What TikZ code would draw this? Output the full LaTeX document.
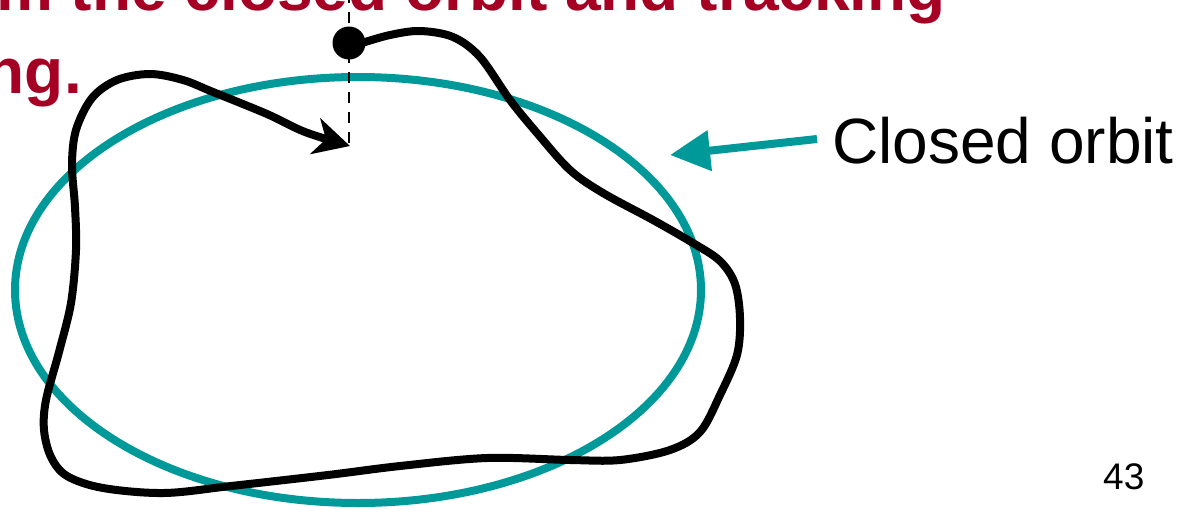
\documentclass[tikz,border=0pt]{standalone}
\usepackage{fontspec}
\setmainfont{Liberation Sans}
\usetikzlibrary{arrows.meta}
\definecolor{titlered}{RGB}{165,0,36}
\definecolor{orbitteal}{RGB}{0,153,153}
\tikzset{
  titletext/.style={font=\fontsize{64}{77}\selectfont\bfseries, text=titlered, inner sep=0pt},
  labeltext/.style={font=\fontsize{64}{77}\selectfont, inner sep=0pt},
  pagenum/.style={font=\fontsize{37}{44}\selectfont, inner sep=0pt},
  orbit/.style={draw=orbitteal, line width=8pt},
  track/.style={draw=black, line width=8pt, line join=round},
  refline/.style={draw=black, line width=2pt, dash pattern=on 11pt off 9pt, dash phase=8pt},
  pointer/.style={draw=orbitteal, line width=8pt, -{Triangle[length=40pt,width=39pt]}},
}
\begin{document}
\begin{tikzpicture}[x=1pt,y=-1pt]
\useasboundingbox (0,0) rectangle (1180,509);
% title fragments
\node[titletext, anchor=base east] (t1) at (946,10) {m the closed orbit and tracking};
\node[titletext, anchor=base east] (t2) at (82,93) {ng.};
% closed orbit
\draw[orbit] (358,290) ellipse [x radius=343, y radius=213];
% reference line
\coordinate (rtop) at (349,0);
\coordinate (rbot) at (349,152);
\draw[refline] (rtop) -- (rbot);
% tracked trajectory
\draw[track, -{Stealth[length=36pt,width=37pt,inset=11pt]}] plot[smooth, tension=0.55] coordinates {
 (362,43) (390,35) (420,31) (453,37) (480,57) (510,100) (537,133) (570,170)
 (603,193) (653,220) (693,243) (720,261) (735,284) (740,318) (737,355)
 (720,395) (700,432) (670,450) (620,460) (570,460) (487,458) (400,466)
 (328,475) (231,486) (164,493) (103,488) (67,476) (51,457) (44,430)
 (46,400) (59,352) (71,303) (76,250) (75,207) (72,165) (76,130) (92,98)
 (117,80) (150,74) (183,80) (213,92) (267,114) (305,132) (350,146)};
% start point
\node[circle, fill=black, minimum size=33pt, inner sep=0pt] (start) at (349,43) {};
% label and pointer
\node[labeltext, anchor=base west] (lbl) at (832,163) {Closed orbit};
\coordinate (otip) at (670,155);
\draw[pointer] (lbl.west |- 0,139) ++(-15,0) -- (otip);
% page number
\node[pagenum, anchor=base west] (pg) at (1103,489) {43};
\end{tikzpicture}
\end{document}
